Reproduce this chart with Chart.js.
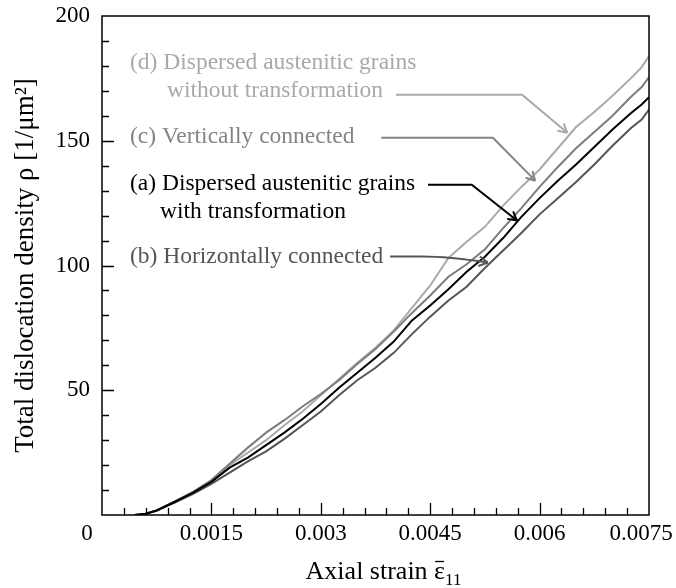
<!DOCTYPE html>
<html>
<head>
<meta charset="utf-8">
<script src="https://cdn.jsdelivr.net/npm/chart.js@4.4.1/dist/chart.umd.min.js"></script>
<style>
  html, body { margin: 0; padding: 0; background: #fff; }
  #wrap { width: 676px; height: 588px; }
</style>
</head>
<body>
<div id="wrap"><canvas id="chart" width="676" height="588"></canvas></div>
<script>
// axial strain samples (shared by all four curves)
const strain = [0.00045, 0.0006, 0.00075, 0.001, 0.00125, 0.0015, 0.00175, 0.002, 0.00225, 0.0025,
                0.00275, 0.003, 0.00325, 0.0035, 0.00375, 0.004, 0.00425, 0.0045, 0.00475, 0.005,
                0.00525, 0.0055, 0.00575, 0.006, 0.00625, 0.0065, 0.00675, 0.007, 0.00725, 0.0074, 0.0075];

// total dislocation density [1/um^2]
const rhoA = [0, 0.5, 1.8, 5.3, 9, 13.3, 19, 23, 28, 33, 38.5, 44.5, 51, 57, 63, 69.5, 78, 84, 90.5, 97.5,
              103.5, 111, 119.5, 127, 134, 140.5, 147.5, 154.5, 161, 164.5, 167.5];
const rhoB = [0, 0.5, 1.8, 5, 8.5, 12.5, 17, 21.5, 25.5, 30.5, 36, 41.5, 48, 54, 59, 65, 72.5, 79.5, 86, 91.5,
              99, 106, 113, 120.5, 127, 133.5, 140.5, 148, 155, 158.5, 162.5];
const rhoC = [0, 0.5, 1.8, 5.5, 9.3, 14, 20.5, 27, 33, 38, 43.5, 48.5, 54, 60.5, 66.5, 73.5, 81, 88, 95.5, 100.5,
              106.5, 115, 123, 131.5, 139.5, 147, 153.5, 160, 167.5, 171.5, 175.5];
const rhoD = [0, 0.5, 1.8, 5.5, 9.3, 13.8, 20, 25, 30, 36, 41.5, 48, 54.5, 61, 67, 74, 83, 92, 103, 109.5,
              115.5, 124, 131.5, 138.5, 147, 155.5, 161.5, 168, 175, 179.5, 184];

const xTickLabels = ['0', '0.0015', '0.003', '0.0045', '0.006', '0.0075'];
const yTickLabels = ['', '50', '100', '150', '200'];

const serif = '"Liberation Serif", "Times New Roman", serif';

const pts = ys => strain.map((x, i) => ({x, y: ys[i]}));

// annotation layout, in data units (strain, rho)
const notes = [
  {lines: ['(d) Dispersed austenitic grains', 'without transformation'], color: '#a9a9a9',
   at: [[0.000384, 181.2], [0.000891, 170]],
   path: [[0.00403, 168.4], [0.00576, 168.4], [0.00638, 153.2]]},
  {lines: ['(c) Vertically connected'], color: '#848484',
   at: [[0.000384, 151.6]],
   path: [[0.00383, 151.2], [0.00536, 151.2], [0.00594, 134]]},
  {lines: ['(a) Dispersed austenitic grains', 'with transformation'], color: '#000000',
   at: [[0.000384, 132.8], [0.000795, 121.6]],
   path: [[0.00447, 132.4], [0.00507, 132.4], [0.00569, 118]]},
  {lines: ['(b) Horizontally connected'], color: '#555555',
   at: [[0.000384, 103.6]],
   path: [[0.00395, 103.6], [0.0046, 103.6], [0.00529, 101.2]], curved: true}
];

const decor = {
  id: 'decor',
  afterDraw(chart) {
    const {ctx, chartArea: a, scales: {x, y}} = chart;
    ctx.save();
    // frame
    ctx.strokeStyle = '#000';
    ctx.lineWidth = 1.5;
    ctx.strokeRect(a.left, a.top, a.right - a.left, a.bottom - a.top);
    // inward ticks
    ctx.lineWidth = 1.3;
    ctx.beginPath();
    for (let i = 1; i < 25; i++) {
      const px = Math.round(x.getPixelForValue(i * 0.0003)) + 0.5;
      const len = i % 5 === 0 ? 12 : 7;
      ctx.moveTo(px, a.bottom); ctx.lineTo(px, a.bottom - len);
    }
    for (let i = 1; i < 20; i++) {
      const py = Math.round(y.getPixelForValue(i * 10)) + 0.5;
      const len = i % 5 === 0 ? 12 : 7;
      ctx.moveTo(a.left, py); ctx.lineTo(a.left + len, py);
    }
    ctx.stroke();

    // x tick labels (origin label sits left of the corner, last one pulled in)
    ctx.fillStyle = '#000';
    ctx.font = '23px ' + serif;
    ctx.textAlign = 'center';
    ctx.textBaseline = 'middle';
    xTickLabels.forEach((t, i) => {
      let px = x.getPixelForValue(i * 0.0015);
      if (i === 0) px -= 15;
      if (i === xTickLabels.length - 1) px -= 8;
      ctx.fillText(t, px, a.bottom + 19);
    });

    // annotations
    ctx.font = '23.5px ' + serif;
    ctx.textBaseline = 'middle';
    ctx.textAlign = 'left';
    notes.forEach(n => {
      ctx.fillStyle = n.color;
      n.lines.forEach((t, i) => {
        ctx.fillText(t, x.getPixelForValue(n.at[i][0]), y.getPixelForValue(n.at[i][1]));
      });
      const p = n.path.map(q => [x.getPixelForValue(q[0]), y.getPixelForValue(q[1])]);
      ctx.strokeStyle = n.color;
      ctx.lineWidth = 2;
      ctx.beginPath();
      ctx.moveTo(p[0][0], p[0][1]);
      let from;
      if (n.curved) {
        ctx.lineTo(p[1][0] - 15, p[1][1]);
        ctx.quadraticCurveTo(p[1][0] + 10, p[1][1], p[2][0], p[2][1]);
        from = [p[1][0] + 10, p[1][1]];
      } else {
        ctx.lineTo(p[1][0], p[1][1]);
        ctx.lineTo(p[2][0], p[2][1]);
        from = p[1];
      }
      ctx.stroke();
      const ang = Math.atan2(p[2][1] - from[1], p[2][0] - from[0]);
      ctx.beginPath();
      [-0.5, 0.5].forEach(d => {
        ctx.moveTo(p[2][0], p[2][1]);
        ctx.lineTo(p[2][0] - 10 * Math.cos(ang + d), p[2][1] - 10 * Math.sin(ang + d));
      });
      ctx.stroke();
    });

    // x title: epsilon with overbar and subscript 11
    ctx.fillStyle = '#000';
    ctx.strokeStyle = '#000';
    ctx.textAlign = 'left';
    ctx.textBaseline = 'alphabetic';
    ctx.font = '26px ' + serif;
    const head = 'Axial strain ';
    const wh = ctx.measureText(head).width;
    const we = ctx.measureText('\u03B5').width;
    ctx.font = '17px ' + serif;
    const ws = ctx.measureText('11').width;
    const sx = (a.left + a.right) / 2 - (wh + we + ws) / 2 + 8;
    ctx.font = '26px ' + serif;
    ctx.fillText(head, sx, 579);
    ctx.fillText('\u03B5', sx + wh, 579);
    ctx.lineWidth = 1.3;
    ctx.beginPath();
    ctx.moveTo(sx + wh + 1, 561.5);
    ctx.lineTo(sx + wh + we - 1, 561.5);
    ctx.stroke();
    ctx.font = '17px ' + serif;
    ctx.fillText('11', sx + wh + we, 585);

    // y title
    ctx.translate(26, (a.top + a.bottom) / 2);
    ctx.rotate(-Math.PI / 2);
    ctx.font = '27px ' + serif;
    ctx.textAlign = 'center';
    ctx.textBaseline = 'middle';
    ctx.fillText('Total dislocation density \u03C1 [1/\u03BCm\u00B2]', 0, 0);
    ctx.restore();
  }
};

new Chart(document.getElementById('chart'), {
  type: 'line',
  data: {
    datasets: [
      {label: '(a) Dispersed austenitic grains with transformation', data: pts(rhoA), borderColor: '#000000'},
      {label: '(b) Horizontally connected', data: pts(rhoB), borderColor: '#555555'},
      {label: '(c) Vertically connected', data: pts(rhoC), borderColor: '#7c7c7c'},
      {label: '(d) Dispersed austenitic grains without transformation', data: pts(rhoD), borderColor: '#aaaaaa'}
    ]
  },
  options: {
    responsive: false,
    animation: false,
    elements: {
      line: {borderWidth: 2, tension: 0, fill: false},
      point: {radius: 0}
    },
    layout: {padding: {top: 16, right: 27, left: 0, bottom: 0}},
    plugins: {legend: {display: false}, tooltip: {enabled: false}},
    scales: {
      x: {
        type: 'linear', min: 0, max: 0.0075,
        grid: {display: false, drawTicks: false},
        border: {display: false},
        ticks: {display: false, stepSize: 0.0015},
        afterFit: s => { s.height = 73; s.paddingLeft = 0; s.paddingRight = 0; }
      },
      y: {
        min: 0, max: 200,
        grid: {display: false, drawTicks: false},
        border: {display: false},
        ticks: {
          stepSize: 50, padding: 12, color: '#000',
          font: {family: serif, size: 23},
          callback: (v, i) => yTickLabels[i]
        },
        afterFit: s => { s.width = 102; s.paddingTop = 0; s.paddingBottom = 0; }
      }
    }
  },
  plugins: [decor]
});
</script>
</body>
</html>
